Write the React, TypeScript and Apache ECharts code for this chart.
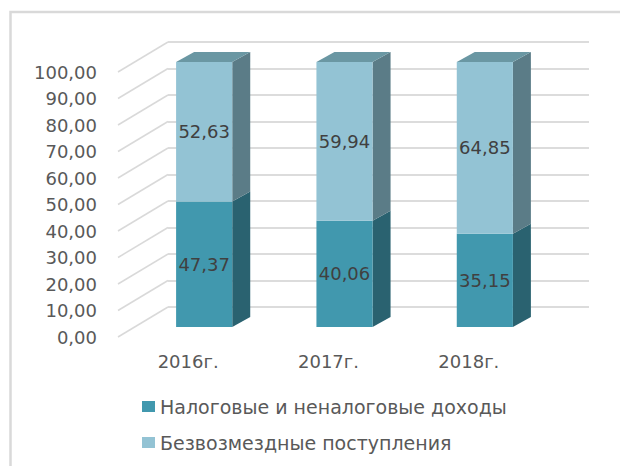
import React, { useEffect, useRef } from "react";
import * as echarts from "echarts";

const categories = ["2016г.", "2017г.", "2018г."];
const taxIncome = [47.37, 40.06, 35.15];
const grants = [52.63, 59.94, 64.85];
const yTicks = [0, 10, 20, 30, 40, 50, 60, 70, 80, 90, 100];
const seriesNames = ["Налоговые и неналоговые доходы", "Безвозмездные поступления"];

const FONT = '"DejaVu Sans", sans-serif';
const fmt = (v: number) => v.toFixed(2).replace(".", ",");

const DEPTH_X = 18;
const DEPTH_Y = 10;

function makeBarRenderer(front: string, side: string, top: string, drawTop: boolean) {
  return (params: any, api: any) => {
    const i = api.value(0);
    const start = api.value(1);
    const end = api.value(2);
    const p0 = api.coord([i, start]);
    const p1 = api.coord([i, end]);
    const bw = api.size([1, 0])[0] * 0.4;
    const L = p0[0] - bw / 2;
    const R = p0[0] + bw / 2;
    const yb = p0[1];
    const yt = p1[1];
    const children: any[] = [
      {
        type: "polygon",
        shape: { points: [[R, yb], [R + DEPTH_X, yb - DEPTH_Y], [R + DEPTH_X, yt - DEPTH_Y], [R, yt]] },
        style: { fill: side },
      },
      { type: "rect", shape: { x: L, y: yt, width: bw, height: yb - yt }, style: { fill: front } },
    ];
    if (drawTop) {
      children.push({
        type: "polygon",
        shape: { points: [[L, yt], [R, yt], [R + DEPTH_X, yt - DEPTH_Y], [L + DEPTH_X, yt - DEPTH_Y]] },
        style: { fill: top },
      });
    }
    children.push({
      type: "text",
      x: p0[0],
      y: (yb + yt) / 2,
      style: {
        text: fmt(end - start),
        fill: "#404040",
        fontSize: 18,
        fontFamily: FONT,
        align: "center",
        verticalAlign: "middle",
      },
    });
    return { type: "group", children };
  };
}

export default function App() {
  const ref = useRef<HTMLDivElement>(null);
  useEffect(() => {
    if (!ref.current) return;
    const chart = echarts.init(ref.current, undefined, { renderer: "svg" });
    const lowerData = categories.map((_, i) => [i, 0, taxIncome[i]]);
    const upperData = categories.map((_, i) => [i, taxIncome[i], taxIncome[i] + grants[i]]);
    const hidden = { show: false };
    chart.setOption({
      animation: false,
      backgroundColor: "#ffffff",
      graphic: [
        {
          type: "rect",
          shape: { x: 10.5, y: 12, width: 800, height: 800 },
          style: { fill: "none", stroke: "#d9d9d9", lineWidth: 2.5 },
          silent: true,
          z: -10,
        },
      ],
      legend: {
        orient: "vertical",
        left: 137,
        top: 392,
        itemWidth: 13,
        itemHeight: 11,
        itemGap: 17,
        icon: "rect",
        data: seriesNames,
        textStyle: { color: "#595959", fontSize: 19, fontFamily: FONT, lineHeight: 19 },
      },
      grid: [
        { left: 134, width: 421, top: 62, height: 265 }, // bar plane
        { left: 118, width: 421, top: 72, height: 265 }, // front plane
        { left: 168, width: 421, top: 42, height: 265 }, // back wall
      ],
      xAxis: [
        { type: "category", data: categories, gridIndex: 0, axisLine: hidden, axisTick: hidden, axisLabel: hidden },
        {
          type: "category",
          data: categories,
          gridIndex: 1,
          axisLine: hidden,
          axisTick: hidden,
          axisLabel: { color: "#595959", fontSize: 18, fontFamily: FONT, margin: 15 },
        },
        { type: "category", data: categories, gridIndex: 2, axisLine: hidden, axisTick: hidden, axisLabel: hidden },
      ],
      yAxis: [
        { type: "value", gridIndex: 0, min: 0, max: 100, interval: 10, axisLabel: hidden, splitLine: hidden, axisLine: hidden },
        {
          type: "value",
          gridIndex: 1,
          min: 0,
          max: 100,
          interval: 10,
          splitLine: hidden,
          axisLine: hidden,
          axisTick: hidden,
          axisLabel: { color: "#595959", fontSize: 18, fontFamily: FONT, margin: 21, formatter: (v: number) => fmt(v) },
        },
        {
          type: "value",
          gridIndex: 2,
          min: 0,
          max: 100,
          interval: 10,
          axisLabel: hidden,
          axisLine: hidden,
          axisTick: hidden,
          splitLine: { show: true, lineStyle: { color: "#dcdcdc", width: 2 } },
        },
      ],
      series: [
        {
          type: "custom",
          name: "walls",
          xAxisIndex: 1,
          yAxisIndex: 1,
          silent: true,
          data: yTicks.map((v) => [0, v]),
          encode: { x: 0, y: 1 },
          renderItem: (params: any, api: any) => {
            const p = api.coord([0, api.value(1)]);
            const x0 = params.coordSys.x;
            return {
              type: "line",
              shape: { x1: x0, y1: p[1], x2: x0 + 50, y2: p[1] - 30 },
              style: { stroke: "#d9d9d9", lineWidth: 1.5 },
            };
          },
          z: 1,
        },
        {
          type: "custom",
          name: seriesNames[0],
          xAxisIndex: 0,
          yAxisIndex: 0,
          data: lowerData,
          encode: { x: 0, y: 2 },
          itemStyle: { color: "#4198ae" },
          renderItem: makeBarRenderer("#4198ae", "#2a6270", "#3a8598", false),
          z: 3,
        },
        {
          type: "custom",
          name: seriesNames[1],
          xAxisIndex: 0,
          yAxisIndex: 0,
          data: upperData,
          encode: { x: 0, y: 2 },
          itemStyle: { color: "#93c3d4" },
          renderItem: makeBarRenderer("#93c3d4", "#5b7c87", "#6a97a3", true),
          z: 4,
        },
      ],
    });
    return () => chart.dispose();
  }, []);
  return <div ref={ref} style={{ position: "fixed", left: 0, top: 0, width: 620, height: 466 }} />;
}
